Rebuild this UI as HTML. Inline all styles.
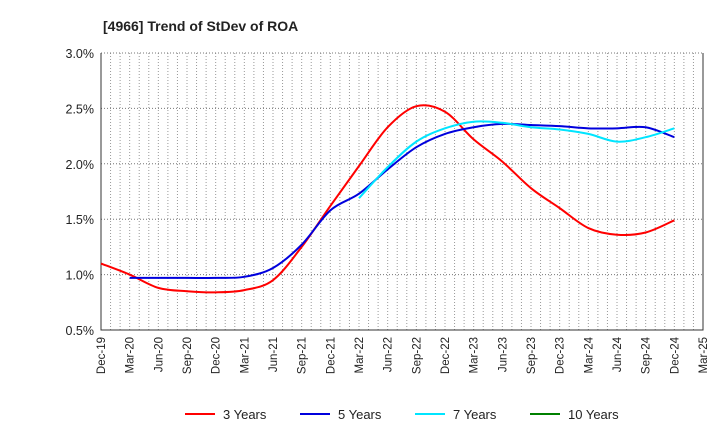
<!DOCTYPE html>
<html><head><meta charset="utf-8"><style>
body{margin:0;background:#fff;font-family:"Liberation Sans",sans-serif}
</style></head><body>
<svg width="720" height="440" xmlns="http://www.w3.org/2000/svg">
<text x="103" y="31" font-size="14" font-weight="bold" fill="#222">[4966]  Trend of StDev of ROA</text>
<g id="grid"></g><g id="axes"></g><g id="series"></g><g id="legend"></g>
</svg>
<script>
const xLabels=["Dec-19","Mar-20","Jun-20","Sep-20","Dec-20","Mar-21","Jun-21","Sep-21","Dec-21","Mar-22","Jun-22","Sep-22","Dec-22","Mar-23","Jun-23","Sep-23","Dec-23","Mar-24","Jun-24","Sep-24","Dec-24","Mar-25"];
const yTicks=[0.5,1.0,1.5,2.0,2.5,3.0];
const s3=[1.10,1.00,0.88,0.85,0.84,0.86,0.95,1.25,1.62,1.98,2.33,2.52,2.47,2.22,2.02,1.78,1.60,1.42,1.36,1.38,1.49];
const s5=[null,0.97,0.97,0.97,0.97,0.98,1.06,1.27,1.58,1.73,1.95,2.15,2.27,2.33,2.36,2.35,2.34,2.32,2.32,2.33,2.24];
const s7=[null,null,null,null,null,null,null,null,null,1.69,1.97,2.20,2.32,2.38,2.37,2.33,2.31,2.27,2.20,2.24,2.32];
const s10=[];
const NS="http://www.w3.org/2000/svg";
const L=101,R=703,T=53,B=330;
const xs=i=>L+i*(R-L)/(xLabels.length-1);
const ys=v=>B-(v-0.5)/(2.5)*(B-T);
function mk(t,a,p){const e=document.createElementNS(NS,t);for(const k in a)e.setAttribute(k,a[k]);p.appendChild(e);return e;}
const grid=document.getElementById('grid'),axes=document.getElementById('axes'),ser=document.getElementById('series'),leg=document.getElementById('legend');
const nm=(xLabels.length-1)*3;
for(let m=1;m<=nm;m++){const x=L+m*(R-L)/nm;const g=mk('line',{x1:x,x2:x,y1:T,y2:B,stroke:'#999','stroke-width':1,'stroke-dasharray':'1,2'},grid);
}
yTicks.forEach(v=>{const y=ys(v);const g=mk('line',{x1:L,x2:R,y1:y,y2:y,stroke:'#777','stroke-width':1,'stroke-dasharray':'1,2'},grid);

const t=mk('text',{x:L-7,y:y+5,'font-size':12.5,'text-anchor':'end',fill:'#222'},axes);t.textContent=v.toFixed(1)+'%';
});
let a=mk('path',{d:`M${L},${T}V${B}H${R}V${T}`,fill:'none',stroke:'#333','stroke-width':1},axes);

xLabels.forEach((l,i)=>{const x=xs(i);const t=mk('text',{x:0,y:0,transform:`translate(${x+4},${B+7}) rotate(-90)`,'font-size':11.5,'text-anchor':'end',fill:'#222'},axes);t.textContent=l;
});
function path(arr){const p=[];arr.forEach((v,i)=>{if(v!=null)p.push([xs(i),ys(v)]);});if(p.length<2)return '';
let d=`M${p[0][0]},${p[0][1]}`;for(let i=0;i<p.length-1;i++){const p0=p[i-1]||p[i],p1=p[i],p2=p[i+1],p3=p[i+2]||p2;
d+=`C${p1[0]+(p2[0]-p0[0])/6},${p1[1]+(p2[1]-p0[1])/6} ${p2[0]-(p3[0]-p1[0])/6},${p2[1]-(p3[1]-p1[1])/6} ${p2[0]},${p2[1]}`;}return d;}
const S=[[s3,'#ff0000','3 Years','line-3-years'],[s5,'#0000dd','5 Years','line-5-years'],[s7,'#00e5ff','7 Years','line-7-years'],[s10,'#008000','10 Years','line-10-years']];
S.forEach(([arr,c,lab,n],k)=>{const d=path(arr);if(d){const p=mk('path',{d,fill:'none',stroke:c,'stroke-width':2},ser);
}
const lx=185+k*115;const g=mk('g',{},leg);
mk('line',{x1:lx,x2:lx+30,y1:414,y2:414,stroke:c,'stroke-width':2},g);
const t=mk('text',{x:lx+38,y:419,'font-size':13,fill:'#222'},g);t.textContent=lab;});
</script>
</body></html>
